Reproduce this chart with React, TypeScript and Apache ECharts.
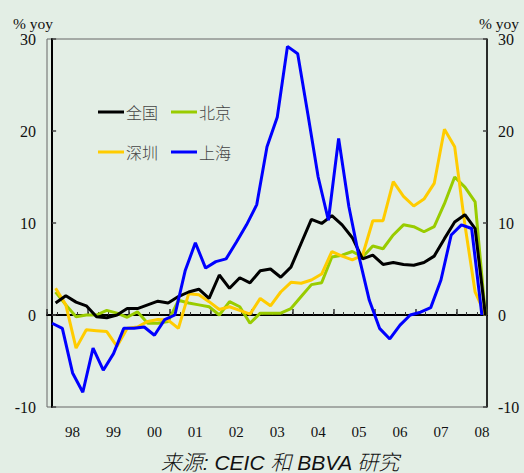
import React, { useEffect, useRef } from "react";
import * as echarts from "echarts";

const years = ["98", "99", "00", "01", "02", "03", "04", "05", "06", "07", "08"];
const quarterNames = ["Q1", "Q2", "Q3", "Q4"];
const quarterCount = 43;

const national = [1.3, 2.1, 1.4, 1.0, -0.2, -0.3, 0.0, 0.7, 0.7, 1.1, 1.5, 1.3, 2.0, 2.5, 2.8, 1.8, 4.35, 2.9, 4.05, 3.5, 4.8, 5.0, 4.1, 5.2, 7.8, 10.4, 9.95, 10.8, 9.8, 8.4, 6.1, 6.5, 5.5, 5.7, 5.5, 5.4, 5.7, 6.4, 8.3, 10.1, 10.9, 9.4, 0];
const beijing = [2.5, 1.1, -0.2, 0.0, 0.0, 0.5, 0.2, -0.25, 0.35, -0.9, -0.9, -0.7, 1.6, 1.3, 1.1, 0.9, 0.0, 1.45, 0.9, -0.9, 0.2, 0.2, 0.2, 0.7, 2.0, 3.3, 3.5, 6.3, 6.5, 6.9, 6.3, 7.5, 7.2, 8.7, 9.8, 9.6, 9.05, 9.6, 12.1, 15.0, 13.9, 12.3, 0];
const shenzhen = [2.9, 1.1, -3.6, -1.6, -1.7, -1.8, -3.4, -1.45, -1.3, -0.7, -0.5, -0.55, -1.45, 2.3, 2.2, 1.45, 0.6, 0.9, 0.5, 0.1, 1.8, 1.0, 2.5, 3.55, 3.45, 3.8, 4.45, 6.9, 6.4, 6.0, 6.5, 10.25, 10.25, 14.5, 12.9, 11.85, 12.6, 14.3, 20.2, 18.3, 9.8, 2.5, 0];
const shanghai = [-0.9, -1.45, -6.3, -8.4, -3.6, -6.0, -4.2, -1.45, -1.45, -1.3, -2.2, -0.5, 0.0, 4.8, 7.85, 5.1, 5.8, 6.1, 7.9, 9.8, 12.0, 18.3, 21.5, 29.2, 28.4, 21.8, 15.0, 10.3, 19.2, 11.8, 6.3, 1.6, -1.45, -2.6, -1.1, 0.0, 0.3, 0.8, 3.8, 8.7, 9.8, 9.4, 0];

const yTicks = { min: -10, max: 30, interval: 10 };
const unitLabel = "% yoy";
const sourceText = "来源: CEIC 和 BBVA 研究";

const categories: string[] = [];
years.forEach((y) => quarterNames.forEach((q) => categories.push(y + q)));
categories.length = quarterCount;

const toPoints = (arr: number[], shift: number) => arr.map((v, i) => [i + shift, v]);

export default function App() {
  const ref = useRef<HTMLDivElement>(null);
  useEffect(() => {
    if (!ref.current) return;
    const chart = echarts.init(ref.current, null, { renderer: "svg" });
    const serifFont = '"Liberation Serif", "Times New Roman", serif';
    const cjkFont = '"Noto Sans CJK SC", sans-serif';
    const lineW = 3;
    const yAxisBase = {
      type: "value",
      min: yTicks.min,
      max: yTicks.max,
      interval: yTicks.interval,
      axisTick: { show: true, inside: true, length: 4, lineStyle: { color: "#444", width: 1.5 } },
      axisLabel: { fontFamily: serifFont, fontSize: 16, color: "#111", margin: 11 },
    };
    const legendText = { fontFamily: cjkFont, fontSize: 16, fontWeight: 300, color: "#444", padding: [0, 0, 0, -3] };
    chart.setOption({
      animation: false,
      backgroundColor: "#e3eee5",
      grid: { left: 47, right: 37, top: 39, bottom: 66, show: true, borderColor: "#666", borderWidth: 1, backgroundColor: "transparent" },
      legend: [
        {
          data: ["全国", "北京"], left: 93, top: 99, orient: "horizontal", itemGap: 13, itemWidth: 26, itemHeight: 3,
          icon: "rect", textStyle: legendText, selectedMode: false,
        },
        {
          data: ["深圳", "上海"], left: 93, top: 139, orient: "horizontal", itemGap: 13, itemWidth: 26, itemHeight: 3,
          icon: "rect", textStyle: legendText, selectedMode: false,
        },
      ],
      xAxis: [
        {
          type: "category", data: categories, boundaryGap: true, position: "bottom",
          axisLine: { lineStyle: { color: "#000", width: 2 } },
          axisTick: { show: true, inside: true, length: 3, interval: 0, lineStyle: { color: "#333", width: 1 } },
          axisLabel: { show: false }, splitLine: { show: false },
        },
        {
          type: "category", data: categories, boundaryGap: true, position: "bottom",
          axisLine: { show: false },
          axisTick: { show: true, inside: true, length: 6, interval: (i: number) => i % 4 === 0, lineStyle: { color: "#333", width: 1.5 } },
          axisLabel: {
            show: true, interval: (i: number) => i % 4 === 2, formatter: (v: string) => v.slice(0, 2),
            fontFamily: serifFont, fontSize: 15, color: "#111", margin: 17,
          },
          splitLine: { show: false },
        },
        { type: "value", min: -0.5, max: quarterCount - 0.5, show: false },
      ],
      yAxis: [
        {
          ...yAxisBase, position: "left",
          axisLine: { show: true, lineStyle: { color: "#000", width: 2 } },
          splitLine: { show: true, lineStyle: { color: ["transparent", "#555", "transparent", "transparent", "transparent"], width: 1 } },
        },
        {
          ...yAxisBase, position: "right",
          axisLine: { show: true, lineStyle: { color: "#000", width: 1.5 } },
          splitLine: { show: false },
        },
      ],
      graphic: [
        { type: "text", left: 13, top: 15, style: { text: unitLabel, font: `15.5px ${serifFont}`, fill: "#111" } },
        { type: "text", left: 479, top: 15, style: { text: unitLabel, font: `15.5px ${serifFont}`, fill: "#111" } },
        {
          type: "text", x: 280, y: 462,
          style: { text: sourceText, font: `italic 300 21px "Liberation Sans", "Noto Sans CJK SC", sans-serif`, fill: "#111", textAlign: "center", textVerticalAlign: "middle" },
        },
      ],
      series: [
        { name: "北京", type: "line", xAxisIndex: 2, data: toPoints(beijing, 0.34), symbol: "none", lineStyle: { width: lineW, color: "#99cc00" }, itemStyle: { color: "#99cc00" } },
        { name: "深圳", type: "line", xAxisIndex: 2, data: toPoints(shenzhen, 0.34), symbol: "none", lineStyle: { width: lineW, color: "#ffcc00" }, itemStyle: { color: "#ffcc00" } },
        { name: "全国", type: "line", xAxisIndex: 2, data: toPoints(national, 0.34), symbol: "none", lineStyle: { width: lineW, color: "#000000" }, itemStyle: { color: "#000000" } },
        { name: "上海", type: "line", xAxisIndex: 2, data: toPoints(shanghai, 0), symbol: "none", lineStyle: { width: lineW, color: "#0000ff" }, itemStyle: { color: "#0000ff" } },
      ],
    });
    return () => chart.dispose();
  }, []);
  return <div ref={ref} style={{ position: "fixed", left: 0, top: 0, width: 524, height: 473 }} />;
}
